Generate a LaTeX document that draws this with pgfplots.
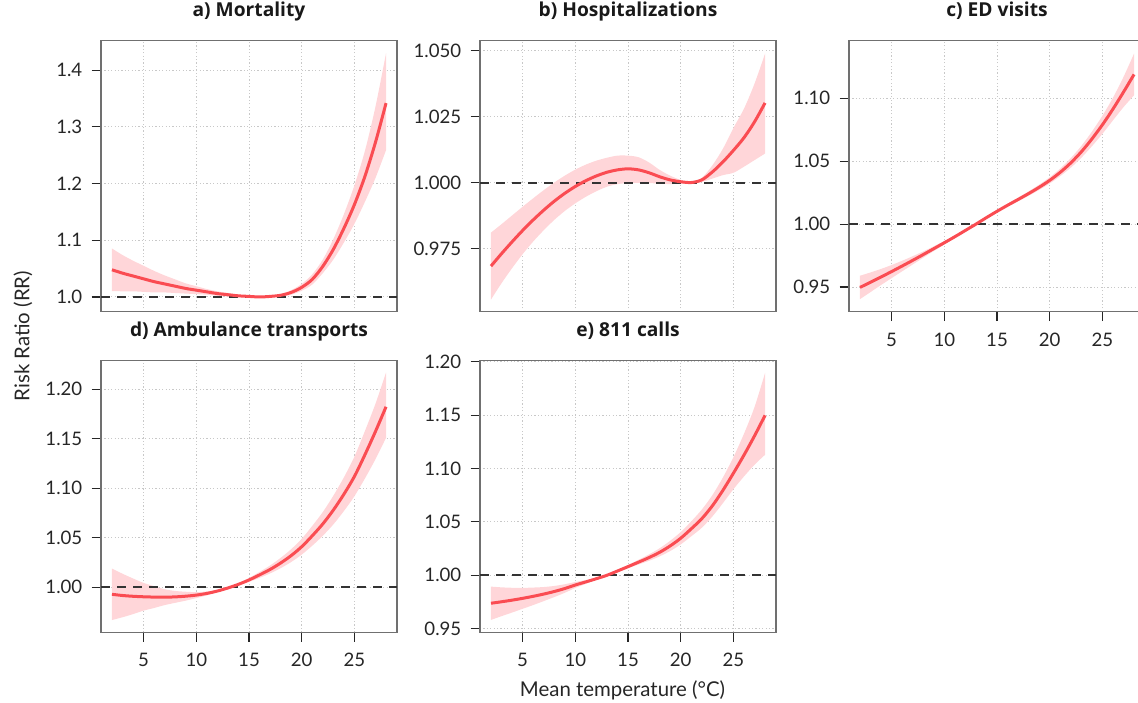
\documentclass[border=0pt]{standalone}
\usepackage{fontspec}
\setmainfont{Lato}
\newfontfamily\titlefont{Open Sans}
\usepackage{pgfplots}
\usepackage{pgfplotstable}
\pgfplotsset{compat=1.18}
\usepgfplotslibrary{fillbetween}

\definecolor{curvered}{RGB}{250,76,82}
\definecolor{ribbonpink}{RGB}{255,214,217}
\definecolor{framegray}{RGB}{112,112,112}
\definecolor{gridgray}{RGB}{200,200,200}

\pgfplotstableread{
x y lo hi
2 1.048 1.0105 1.0855
3 1.042 1.010 1.074
4 1.037 1.010 1.064
5 1.032 1.009 1.055
6 1.027 1.008 1.046
7 1.023 1.008 1.038
8 1.019 1.007 1.031
9 1.015 1.006 1.024
10 1.012 1.005 1.019
11 1.009 1.004 1.014
12 1.006 1.002 1.010
13 1.004 1.001 1.007
14 1.002 1.000 1.004
15 1.001 1.000 1.002
16 1.000 0.9995 1.0005
17 1.001 1.000 1.002
18 1.003 1.001 1.005
19 1.008 1.004 1.012
20 1.017 1.011 1.023
21 1.031 1.022 1.040
22 1.054 1.042 1.066
23 1.084 1.066 1.102
24 1.121 1.096 1.146
25 1.163 1.129 1.197
26 1.213 1.168 1.258
27 1.273 1.210 1.336
28 1.342 1.259 1.430
}\tabA

\pgfplotstableread{
x y lo hi
2 0.9683 0.9556 0.9810
3 0.9730 0.9618 0.9842
4 0.9775 0.9675 0.9875
5 0.9818 0.9728 0.9908
6 0.9858 0.9776 0.9940
7 0.9895 0.9819 0.9971
8 0.9929 0.9858 1.0000
9 0.9959 0.9892 1.0026
10 0.9985 0.9921 1.0049
11 1.0007 0.9946 1.0068
12 1.0025 0.9967 1.0083
13 1.0039 0.9984 1.0094
14 1.0048 0.9994 1.0102
15 1.0052 0.9998 1.0102
16 1.0048 0.9999 1.0096
17 1.0037 0.9998 1.0076
18 1.0022 0.9996 1.0048
19 1.0010 0.9994 1.0026
20 1.0003 0.9996 1.0010
21 1.0000 0.9997 1.0003
22 1.0010 1.0002 1.0018
23 1.0040 1.0015 1.0065
24 1.0078 1.0028 1.0128
25 1.0122 1.0037 1.0207
26 1.0170 1.0060 1.0280
27 1.0230 1.0085 1.0375
28 1.0302 1.0110 1.0489
}\tabB

\pgfplotstableread{
x y lo hi
2 0.9497 0.9404 0.9590
3 0.9538 0.9460 0.9616
4 0.9580 0.9516 0.9644
5 0.9623 0.9571 0.9675
6 0.9667 0.9625 0.9709
7 0.9712 0.9679 0.9745
8 0.9758 0.9733 0.9783
9 0.9805 0.9786 0.9824
10 0.9852 0.9838 0.9866
11 0.9900 0.9891 0.9909
12 0.9950 0.9945 0.9955
13 1.0000 0.9998 1.0002
14 1.0052 1.0046 1.0058
15 1.0102 1.0092 1.0112
16 1.0150 1.0138 1.0162
17 1.0196 1.0181 1.0211
18 1.0243 1.0225 1.0261
19 1.0293 1.0272 1.0314
20 1.0348 1.0323 1.0373
21 1.0412 1.0382 1.0442
22 1.0487 1.0449 1.0525
23 1.0575 1.0528 1.0622
24 1.0677 1.0619 1.0735
25 1.0790 1.0718 1.0862
26 1.0915 1.0825 1.1005
27 1.1050 1.0930 1.1170
28 1.1190 1.1025 1.1356
}\tabC

\pgfplotstableread{
x y lo hi
2 0.9929 0.9669 1.0189
3 0.9917 0.9697 1.0137
4 0.9909 0.9729 1.0089
5 0.9904 0.9764 1.0044
6 0.9901 0.9791 1.0011
7 0.9900 0.9820 0.9980
8 0.9903 0.9843 0.9963
9 0.9910 0.9865 0.9955
10 0.9921 0.9891 0.9951
11 0.9938 0.9918 0.9958
12 0.9962 0.9952 0.9972
13 0.9993 0.9990 0.9996
14 1.0030 1.0020 1.0040
15 1.0074 1.0054 1.0094
16 1.0125 1.0095 1.0155
17 1.0180 1.0140 1.0220
18 1.0245 1.0193 1.0297
19 1.0320 1.0255 1.0385
20 1.0410 1.0330 1.0490
21 1.0520 1.0420 1.0620
22 1.0640 1.0520 1.0760
23 1.0780 1.0635 1.0925
24 1.0940 1.0770 1.1110
25 1.1120 1.0920 1.1320
26 1.1340 1.1100 1.1580
27 1.1575 1.1295 1.1855
28 1.1824 1.1510 1.2169
}\tabD

\pgfplotstableread{
x y lo hi
2 0.9738 0.9582 0.9894
3 0.9752 0.9617 0.9887
4 0.9767 0.9651 0.9883
5 0.9784 0.9686 0.9882
6 0.9803 0.9721 0.9885
7 0.9824 0.9758 0.9890
8 0.9848 0.9796 0.9900
9 0.9876 0.9836 0.9916
10 0.9909 0.9881 0.9937
11 0.9938 0.9920 0.9956
12 0.9968 0.9959 0.9977
13 1.0000 0.9998 1.0002
14 1.0040 1.0032 1.0048
15 1.0081 1.0066 1.0096
16 1.0123 1.0101 1.0145
17 1.0166 1.0136 1.0196
18 1.0215 1.0177 1.0253
19 1.0275 1.0227 1.0323
20 1.0347 1.0289 1.0405
21 1.0435 1.0365 1.0505
22 1.0530 1.0445 1.0615
23 1.0650 1.0550 1.0750
24 1.0795 1.0675 1.0915
25 1.0956 1.0806 1.1106
26 1.1125 1.0925 1.1325
27 1.1305 1.1035 1.1575
28 1.1497 1.1128 1.1894
}\tabE

\pgfplotsset{
  panel/.style={
    scale only axis, width=148pt, height=135.5pt,
    anchor=north west,
    xmin=0.96, xmax=29.04,
    axis line style={draw=framegray, line width=0.65pt},
    tick align=outside, xtick pos=bottom, ytick pos=left,
    major tick length=4.65pt,
    tick style={black!85, line width=0.55pt},
    xtick={5,10,15,20,25},
    xticklabels={5,10,15,20,25},
    grid=major,
    grid style={gridgray, line width=0.5pt, dash pattern=on 0.6pt off 1.1pt},
    ticklabel style={font=\fontsize{9.3}{10}\selectfont, text=black!85},
    yticklabel style={xshift=-1.2pt},
    xticklabel style={yshift=-2.4pt},
    title style={at={(0.5,1)}, anchor=base, yshift=6.2pt,
      font=\titlefont\bfseries\fontsize{9.6}{11}\selectfont, text=black!90},
  },
  noxlabels/.style={xticklabels={}, xtick style={draw=none}},
  curve/.style={curvered, line width=1.5pt, smooth, no markers},
  ribbon/.style={fill=ribbonpink, draw=none},
  refline/.style={black!80, line width=1pt, dash pattern=on 4.5pt off 3.5pt, no markers},
}

\newcommand{\drawpanel}[1]{%
  \addplot[name path=hi, draw=none, smooth, no markers] table[x=x,y=hi]{#1};
  \addplot[name path=lo, draw=none, smooth, no markers] table[x=x,y=lo]{#1};
  \addplot[ribbon] fill between[of=hi and lo];
  \addplot[refline] coordinates {(0.96,1) (29.04,1)};
  \addplot[curve] table[x=x,y=y]{#1};
}

\begin{document}
\begin{tikzpicture}

\begin{axis}[panel, noxlabels, at={(50.5pt,-20.35pt)},
  ymin=0.974, ymax=1.452,
  ytick={1.0,1.1,1.2,1.3,1.4}, yticklabels={1.0,1.1,1.2,1.3,1.4},
  title={a) Mortality}]
\drawpanel{\tabA}
\end{axis}

\begin{axis}[panel, noxlabels, at={(240pt,-20.35pt)},
  ymin=0.951, ymax=1.0538,
  ytick={0.975,1.0,1.025,1.05}, yticklabels={0.975,1.000,1.025,1.050},
  title={b) Hospitalizations}]
\drawpanel{\tabB}
\end{axis}

\begin{axis}[panel, at={(424.5pt,-20.35pt)},
  ymin=0.9304, ymax=1.1458,
  ytick={0.95,1.0,1.05,1.1}, yticklabels={0.95,1.00,1.05,1.10},
  title={c) ED visits}]
\drawpanel{\tabC}
\end{axis}

\begin{axis}[panel, at={(50.5pt,-180.35pt)}, height=135.8pt,
  ymin=0.9545, ymax=1.2289,
  ytick={1.0,1.05,1.1,1.15,1.2}, yticklabels={1.00,1.05,1.10,1.15,1.20},
  title={d) Ambulance transports}]
\drawpanel{\tabD}
\end{axis}

\begin{axis}[panel, at={(240pt,-180.35pt)}, height=135.8pt,
  ymin=0.9466, ymax=1.2009,
  ytick={0.95,1.0,1.05,1.1,1.15,1.2}, yticklabels={0.95,1.00,1.05,1.10,1.15,1.20},
  title={e) 811 calls}]
\drawpanel{\tabE}
\end{axis}

\node[rotate=90, anchor=center, font=\fontsize{10.2}{12}\selectfont, text=black!85] at (11.5pt,-168pt) {Risk Ratio (RR)};
\node[anchor=base, font=\fontsize{10.2}{12}\selectfont, text=black!85] at (311.25pt,-348.35pt) {Mean temperature (°C)};

\pgfresetboundingbox
\path[use as bounding box] (0,0) rectangle (569pt,-351pt);
\end{tikzpicture}
\end{document}
